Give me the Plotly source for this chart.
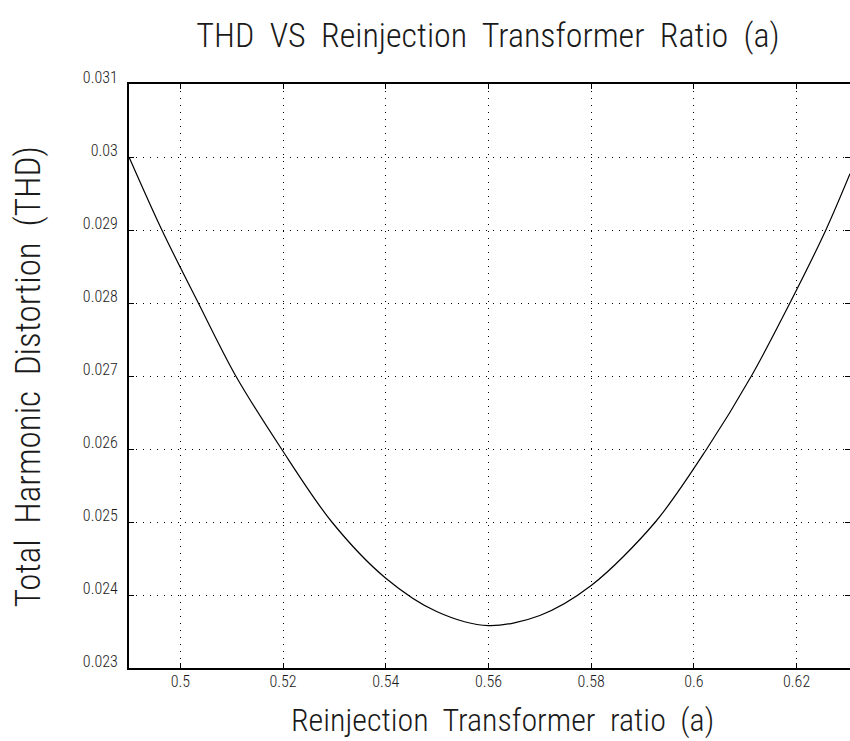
import plotly.graph_objects as go

ratio_a = [0.49, 0.4964, 0.5035, 0.5108, 0.5197, 0.5295, 0.54, 0.55, 0.56,
           0.57, 0.58, 0.5925, 0.6025, 0.6112, 0.6187, 0.6257, 0.6304]
thd = [0.0300, 0.0290, 0.0280, 0.0270, 0.0260, 0.0250, 0.02423, 0.02377, 0.02358,
       0.02372, 0.02413, 0.0250, 0.0260, 0.0270, 0.0280, 0.0290, 0.02977]

x_ticks = [0.5, 0.52, 0.54, 0.56, 0.58, 0.6, 0.62]
x_tick_labels = ["0.5", "0.52", "0.54", "0.56", "0.58", "0.6", "0.62"]
y_ticks = [0.023, 0.024, 0.025, 0.026, 0.027, 0.028, 0.029, 0.030, 0.031]
y_tick_labels = ["0.023", "0.024", "0.025", "0.026", "0.027", "0.028", "0.029", "0.03", "0.031"]

FONT = "Roboto Condensed, Roboto, sans-serif"
TXT = "#1a1a1a"

fig = go.Figure()
fig.add_trace(go.Scatter(x=ratio_a, y=thd, mode="lines",
                         line=dict(color="black", width=1.2, shape="spline", smoothing=0.9),
                         showlegend=False, hoverinfo="skip"))

fig.update_layout(
    width=850, height=741,
    margin=dict(l=129, r=0, t=84, b=73, autoexpand=False),
    paper_bgcolor="white", plot_bgcolor="white",
    title=dict(text="THD  VS  Reinjection  Transformer  Ratio  (a)",
               x=0.5741, xanchor="center", y=0.9528, yanchor="middle",
               font=dict(family=FONT, size=34, color=TXT, weight=300)),
    font=dict(family=FONT, color=TXT, weight=300),
    annotations=[
        dict(text="Reinjection  Transformer  ratio  (a)", xref="paper", yref="paper",
             x=0.5187, y=-0.089, xanchor="center", yanchor="middle", showarrow=False,
             font=dict(size=32, family=FONT, color=TXT, weight=300)),
        dict(text="Total  Harmonic  Distortion  (THD)", xref="paper", yref="paper",
             x=-0.140, y=0.498, xanchor="center", yanchor="middle", showarrow=False,
             textangle=-90, font=dict(size=35, family=FONT, color=TXT, weight=300)),
    ],
)
fig.update_xaxes(
    range=[0.49, 0.6304], tickvals=x_ticks, ticktext=x_tick_labels,
    showgrid=True, gridcolor="black", gridwidth=1, griddash="1px,6px",
    showline=True, linecolor="black", linewidth=2, mirror="ticks",
    ticks="inside", ticklen=5, tickcolor="black", automargin=False,
    ticklabelstandoff=-2,
    tickfont=dict(size=16, family=FONT, color=TXT, weight=300), zeroline=False,
)
fig.update_yaxes(
    range=[0.023, 0.031], tickvals=y_ticks, ticktext=y_tick_labels,
    showgrid=True, gridcolor="black", gridwidth=1, griddash="1px,6px",
    showline=True, linecolor="black", linewidth=2, mirror="ticks",
    ticks="inside", ticklen=5, tickcolor="black", automargin=False,
    ticklabelstandoff=6, ticklabelshift=-7,
    tickfont=dict(size=16, family=FONT, color=TXT, weight=300), zeroline=False,
)

fig.write_html("out.html",
               config={"displayModeBar": False, "staticPlot": True},
               post_script="document.body.style.margin='0px';document.body.style.overflow='hidden';")
